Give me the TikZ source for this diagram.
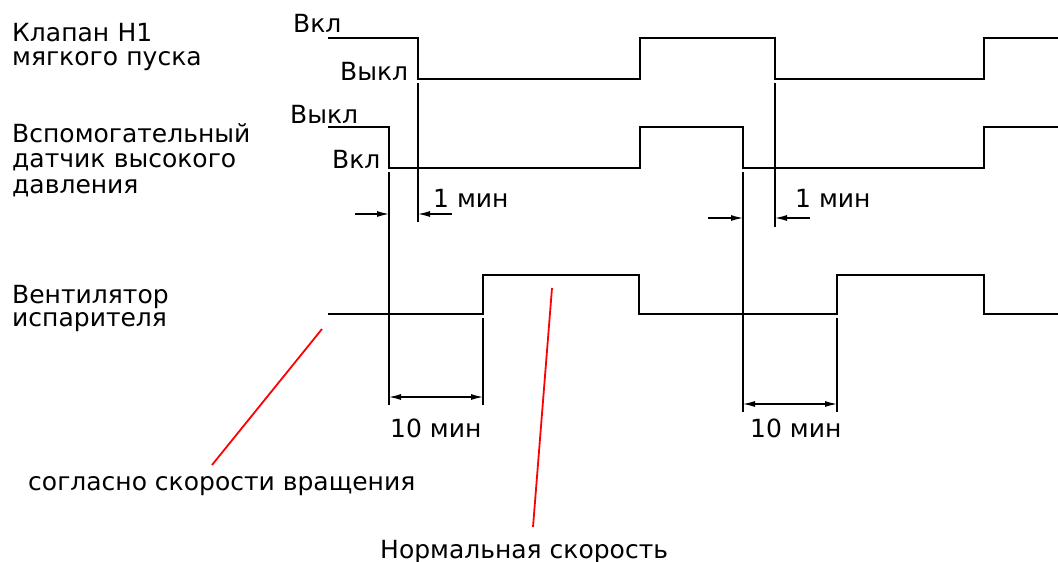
\documentclass[tikz,border=0pt]{standalone}
\usepackage{fontspec}
\setmainfont{DejaVu Sans}
\usetikzlibrary{arrows.meta,positioning}

\begin{document}
\begin{tikzpicture}[x=1pt, y=-1pt, every node/.style={inner sep=0pt, anchor=base west, font=\fontsize{25}{23}\selectfont}, label/.style={text width=260pt, align=left}, sig/.style={line width=1.5pt}, ext/.style={line width=1.1pt}, dim/.style={line width=1.1pt, >={Latex[length=12pt,width=6pt]}}, ptr/.style={red, line width=1.8pt}]
\useasboundingbox (0,0) rectangle (1058,562);
% signal names
\node[label, font=\fontsize{25}{24.5}\selectfont] (valve) at (12,41) {Клапан H1\\мягкого пуска};
\node[label, font=\fontsize{25}{25.5}\selectfont] (sensor) at (12,142) {Вспомогательный\\датчик высокого\\давления};
\node[label, font=\fontsize{25}{23.5}\selectfont] (fan) at (12,303) {Вентилятор\\испарителя};
% state texts
\node (v-on) at (293,32) {Вкл};
\node (v-off) at (340,80) {Выкл};
\node (s-off) at (290,123) {Выкл};
\node (s-on) at (332,168) {Вкл};
% time diagrams
\draw[sig] (328,38) -- (418,38) -- (418,79) -- (640,79) -- (640,38) -- (775,38) -- (775,79) -- (984,79) -- (984,38) -- (1058,38);
\draw[sig] (328,127) -- (389,127) -- (389,168) -- (640,168) -- (640,127) -- (743,127) -- (743,168) -- (984,168) -- (984,127) -- (1058,127);
\draw[sig] (328,314) -- (483,314) -- (483,275) -- (639,275) -- (639,314) -- (837,314) -- (837,275) -- (984,275) -- (984,314) -- (1058,314);
% extension lines
\draw[ext] (418,83) -- (418,222);
\draw[ext] (775,83) -- (775,227);
\draw[ext] (389,172) -- (389,405);
\draw[ext] (743,172) -- (743,412);
\draw[ext] (483,318) -- (483,405);
\draw[ext] (837,318) -- (837,412);
% 1 min
\coordinate (a1) at (355,214); \coordinate (a2) at (389,214);
\coordinate (a3) at (452,214); \coordinate (a4) at (418,214);
\draw[dim,->] (a1) -- (a2); \draw[dim,->] (a3) -- (a4);
\node (t1a) at (433,207) {1 мин};
\coordinate (b1) at (708,218); \coordinate (b2) at (743,218);
\coordinate (b3) at (810,218); \coordinate (b4) at (775,218);
\draw[dim,->] (b1) -- (b2); \draw[dim,->] (b3) -- (b4);
\node (t1b) at (795,207) {1 мин};
% 10 min
\coordinate (c1) at (389,397); \coordinate (c2) at (483,397);
\draw[dim,<->] (c1) -- (c2);
\node (t10a) at (390,437) {10 мин};
\coordinate (d1) at (743,404); \coordinate (d2) at (837,404);
\draw[dim,<->] (d1) -- (d2);
\node (t10b) at (750,437) {10 мин};
% speed notes
\node (slow) at (28,490) {согласно скорости вращения};
\node (norm) at (380,558) {Нормальная скорость};
\coordinate (p1) at (322,329); \coordinate (q1) at (212,465);
\coordinate (p2) at (552,288); \coordinate (q2) at (533,527);
\draw[ptr] (p1) -- (q1);
\draw[ptr] (p2) -- (q2);
\end{tikzpicture}
\end{document}
